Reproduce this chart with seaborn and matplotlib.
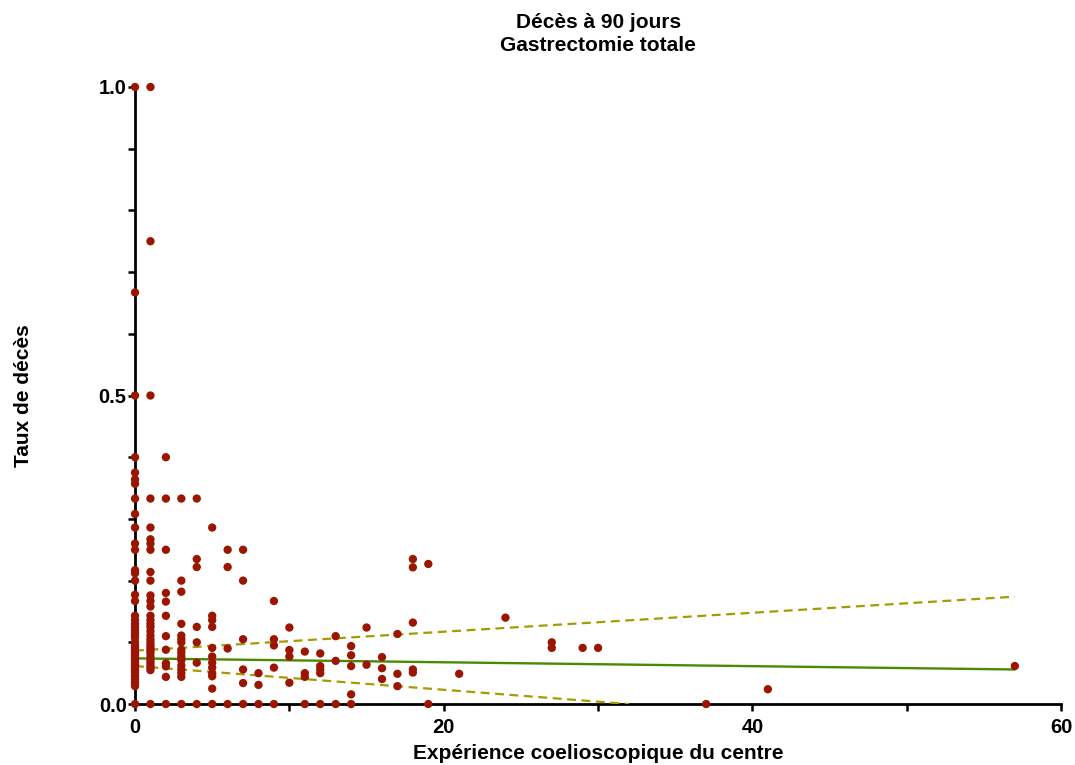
import numpy as np
import pandas as pd
import matplotlib
matplotlib.use("Agg")
import matplotlib.pyplot as plt
import seaborn as sns
from matplotlib.ticker import MultipleLocator, FormatStrFormatter

# Taux de décès, colonne par colonne (expérience du centre)
taux_x0 = [1.0, 0.667, 0.5, 0.4, 0.375, 0.364, 0.357, 0.333, 0.308, 0.286, 0.26, 0.25,
           0.217, 0.212, 0.2, 0.177, 0.167, 0.143, 0.136, 0.13, 0.125, 0.12, 0.115,
           0.111, 0.107, 0.1, 0.095, 0.091, 0.087, 0.083, 0.08, 0.077, 0.074, 0.071,
           0.067, 0.0645, 0.0625, 0.059, 0.056, 0.053, 0.05, 0.045, 0.04, 0.036,
           0.033, 0.029, 0.0]
taux_x1 = [1.0, 0.75, 0.5, 0.333, 0.286, 0.267, 0.26, 0.25, 0.214, 0.2, 0.176, 0.167,
           0.158, 0.143, 0.136, 0.13, 0.125, 0.118, 0.111, 0.105, 0.1, 0.095, 0.091,
           0.087, 0.083, 0.077, 0.071, 0.067, 0.0625, 0.059, 0.055, 0.0]
taux_x2 = [0.4, 0.333, 0.25, 0.18, 0.166, 0.143, 0.11, 0.088, 0.066, 0.061, 0.044, 0.0]
taux_x3 = [0.333, 0.2, 0.182, 0.13, 0.111, 0.105, 0.1, 0.088, 0.083, 0.077, 0.071,
           0.0625, 0.056, 0.05, 0.044, 0.0]
taux_x4 = [0.333, 0.235, 0.222, 0.125, 0.1, 0.067, 0.0]
taux_x5 = [0.286, 0.143, 0.136, 0.125, 0.091, 0.077, 0.067, 0.059, 0.05, 0.045, 0.025, 0.0]
taux_x6 = [0.25, 0.222, 0.09, 0.0]
taux_x7 = [0.25, 0.2, 0.105, 0.056, 0.034, 0.0]
taux_x8 = [0.05, 0.031, 0.0]
taux_x9 = [0.167, 0.105, 0.095, 0.059, 0.0]
taux_x10 = [0.124, 0.0875, 0.077, 0.0345]
taux_x11 = [0.085, 0.05, 0.044, 0.0]
taux_x12 = [0.082, 0.0615, 0.056, 0.05, 0.0]
taux_x13 = [0.11, 0.07, 0.0]
taux_x14 = [0.094, 0.079, 0.0615, 0.0157, 0.0]
taux_x15 = [0.124, 0.0637]
taux_x16 = [0.076, 0.058, 0.0405]
taux_x17 = [0.1135, 0.049, 0.029]
taux_x18 = [0.235, 0.2215, 0.132, 0.056, 0.051]
taux_x19 = [0.227, 0.0]
# centres isolés
exp_autres = [21, 24, 27, 27, 29, 30, 37, 41, 57]
taux_autres = [0.049, 0.14, 0.1, 0.091, 0.091, 0.091, 0.0, 0.024, 0.0616]

# Régression linéaire et bandes de confiance à 95 %
reg_x = [0, 57]
reg_y = [0.074, 0.056]
ic_haut_x = [0, 57]
ic_haut_y = [0.0865, 0.174]
ic_bas_x = [0, 32]
ic_bas_y = [0.0616, 0.0]

colonnes = [taux_x0, taux_x1, taux_x2, taux_x3, taux_x4, taux_x5, taux_x6, taux_x7,
            taux_x8, taux_x9, taux_x10, taux_x11, taux_x12, taux_x13, taux_x14,
            taux_x15, taux_x16, taux_x17, taux_x18, taux_x19]
exp, taux = [], []
for i, col in enumerate(colonnes):
    exp += [i] * len(col)
    taux += col
exp += exp_autres
taux += taux_autres
df = pd.DataFrame({"experience": exp, "taux": taux})

sns.set_style("ticks")
plt.rcParams['font.family'] = ['Liberation Sans', 'DejaVu Sans']
plt.rcParams['font.weight'] = 'bold'
plt.rcParams['text.color'] = 'black'
plt.rcParams['axes.labelcolor'] = 'black'
plt.rcParams['xtick.color'] = 'black'
plt.rcParams['ytick.color'] = 'black'

fig = plt.figure(figsize=(10.75, 7.65), dpi=100)
ax = fig.add_axes([0.1256, 0.0797, 0.8615, 0.8066])

sns.scatterplot(data=df, x="experience", y="taux", color="#9b1600", s=36,
                edgecolor="none", ax=ax, zorder=4, clip_on=False)

ax.plot(reg_x, reg_y, color="#4a8a00", lw=1.7, zorder=3)
ax.plot(ic_haut_x, ic_haut_y, color="#a39b00", lw=1.6, ls=(0, (4, 2.5)), zorder=3)
ax.plot(ic_bas_x, ic_bas_y, color="#a39b00", lw=1.6, ls=(0, (4, 2.5)), zorder=3)

ax.set_xlim(0, 60)
ax.set_ylim(0, 1.0)
sns.despine(ax=ax)
for s in ["left", "bottom"]:
    ax.spines[s].set_linewidth(2.0)
    ax.spines[s].set_color("black")

ax.xaxis.set_major_locator(MultipleLocator(20))
ax.xaxis.set_minor_locator(MultipleLocator(10))
ax.yaxis.set_major_locator(MultipleLocator(0.5))
ax.yaxis.set_minor_locator(MultipleLocator(0.1))
ax.yaxis.set_major_formatter(FormatStrFormatter("%.1f"))
ax.tick_params(which="both", direction="out", length=5, width=1.8, color="black",
               labelsize=14.5, labelcolor="black")
ax.tick_params(axis="x", pad=5)
ax.tick_params(axis="y", pad=1)
for lab in ax.get_xticklabels() + ax.get_yticklabels():
    lab.set_fontweight("bold")

ax.set_xlabel("Expérience coelioscopique du centre", fontsize=15, fontweight="bold", labelpad=5)
ax.set_ylabel("Taux de décès", fontsize=15, fontweight="bold", labelpad=47)
ax.set_title("Décès à 90 jours\nGastrectomie totale", fontsize=15, fontweight="bold",
             pad=26, linespacing=1.25, color="black")

fig.savefig("out.png", dpi=100)
